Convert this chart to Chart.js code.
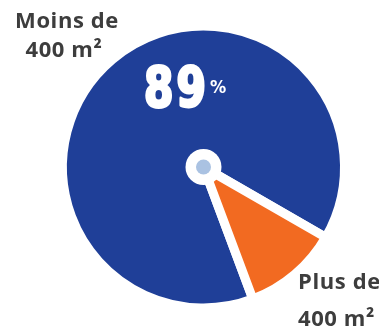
<!DOCTYPE html>
<html>
<head>
<meta charset="utf-8">
<script src="https://cdn.jsdelivr.net/npm/chart.js@4/dist/chart.umd.min.js"></script>
<style>
  html, body { margin: 0; padding: 0; background: #ffffff; overflow: hidden; }
  #wrap { width: 379px; height: 328px; }
</style>
</head>
<body>
<div id="wrap"><canvas id="c" width="379" height="328"></canvas></div>
<script>
// Surface shares of the two groups (percent)
const categories = ['Moins de 400 m²', 'Plus de 400 m²'];
const shares = [89, 11];
const sliceColors = ['#1f3f98', '#f26a21'];
const labelLines = [['Moins de', '400 m²'], ['Plus de', '400 m²']];

// Hub, headline percentage and the two category captions
const overlay = {
  id: 'overlay',
  afterDatasetsDraw(chart) {
    const ctx = chart.ctx;
    const arc = chart.getDatasetMeta(0).data[0];
    const cx = arc.x, cy = arc.y;
    ctx.save();

    ctx.fillStyle = '#ffffff';
    ctx.beginPath(); ctx.arc(cx, cy, 18, 0, Math.PI * 2); ctx.fill();
    ctx.fillStyle = '#aac2e2';
    ctx.beginPath(); ctx.arc(cx, cy, 7.5, 0, Math.PI * 2); ctx.fill();

    // big figure, tall and heavy
    ctx.fillStyle = '#ffffff';
    ctx.strokeStyle = '#ffffff';
    ctx.textAlign = 'left';
    ctx.textBaseline = 'alphabetic';
    ctx.save();
    ctx.translate(144, 106);
    ctx.scale(1, 1.16);
    ctx.font = 'bold 47px "DejaVu Sans Condensed"';
    ctx.letterSpacing = '3px';
    ctx.lineWidth = 2.5;
    ctx.lineJoin = 'round';
    ctx.fillText(String(shares[0]), 0, 0);
    ctx.strokeText(String(shares[0]), 0, 0);
    ctx.restore();
    ctx.font = 'bold 18px "DejaVu Sans Condensed"';
    ctx.fillText('%', 210, 93);

    // captions
    ctx.fillStyle = '#3d3d3d';
    ctx.font = 'bold 22px "Open Sans"';
    ctx.letterSpacing = '0.6px';
    ctx.textAlign = 'center';
    ctx.fillText(labelLines[0][0], 67, 28);
    ctx.fillText(labelLines[0][1], 64, 57);
    ctx.textAlign = 'left';
    ctx.fillText(labelLines[1][0], 298, 289);
    ctx.fillText(labelLines[1][1], 298, 326);
    ctx.restore();
  }
};

new Chart(document.getElementById('c'), {
  type: 'pie',
  data: {
    labels: categories,
    datasets: [{
      data: shares,
      backgroundColor: sliceColors,
      borderColor: '#ffffff',
      borderWidth: 9,
      hoverOffset: 0
    }]
  },
  options: {
    responsive: false,
    animation: false,
    devicePixelRatio: 1,
    rotation: 159.5,
    radius: 141,
    layout: { padding: { left: 28, right: 0, top: 6, bottom: 0 } },
    plugins: {
      legend: { display: false },
      tooltip: { enabled: false }
    }
  },
  plugins: [overlay]
});
</script>
</body>
</html>
